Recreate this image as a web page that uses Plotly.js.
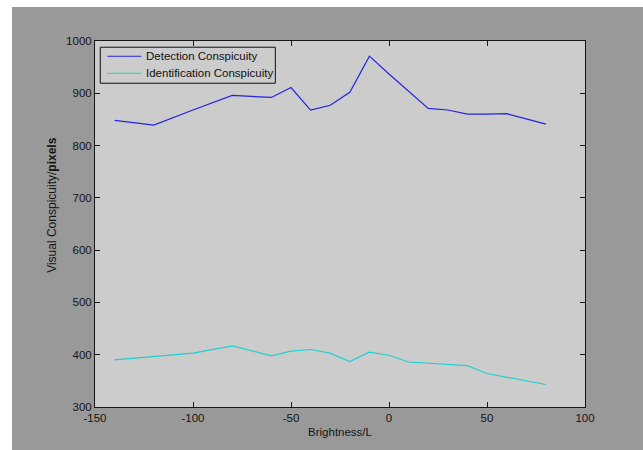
<!DOCTYPE html>
<html>
<head>
<meta charset="utf-8">
<script src="https://cdn.plot.ly/plotly-3.0.1.min.js"></script>
<style>
  html, body { margin: 0; padding: 0; background: #ffffff; width: 643px; height: 450px; overflow: hidden; }
  #chart { position: absolute; left: 12px; top: 7px; width: 631px; height: 443px; }
</style>
</head>
<body>
<div id="chart"></div>
<script>
const brightness = [-140, -120, -100, -80, -60, -50, -40, -30, -20, -10, 0, 10, 20, 30, 40, 50, 60, 70, 80];
const detection = [848, 839, 868, 896, 892, 911, 868, 877, 902, 971, 937, 904, 871, 868, 860, 860, 861, 851, 841];
const identification = [390, 396, 403, 417, 398, 407, 410, 403, 387, 405, 399, 386, 384, 382, 379, 364, 357, 350, 343];
const seriesNames = ["Detection Conspicuity", "Identification Conspicuity"];
const seriesColors = ["#2424e0", "#22d0d0"];
const xTicks = [-150, -100, -50, 0, 50, 100];
const yTicks = [300, 400, 500, 600, 700, 800, 900, 1000];

const axisColor = "#151515";
const fontFam = "Arial, 'Liberation Sans', sans-serif";

const traces = [
  { x: brightness, y: detection, name: seriesNames[0], type: "scatter", mode: "lines",
    line: { color: seriesColors[0], width: 1.2 } },
  { x: brightness, y: identification, name: seriesNames[1], type: "scatter", mode: "lines",
    line: { color: seriesColors[1], width: 1.2 } }
];

// Compact MATLAB-style legend box (paper coordinates)
const legBox = { x0: 0.0108, x1: 0.368, y0: 0.8846, y1: 0.983 };
const legRows = [0.9583, 0.9119];
const shapes = [
  { type: "rect", xref: "paper", yref: "paper", x0: legBox.x0, x1: legBox.x1, y0: legBox.y0, y1: legBox.y1,
    fillcolor: "#cccccc", line: { color: "#111111", width: 1 }, layer: "above" }
];
const annotations = [];
seriesNames.forEach((nm, i) => {
  shapes.push({ type: "line", xref: "paper", yref: "paper", x0: 0.0251, x1: 0.0945, y0: legRows[i], y1: legRows[i],
    line: { color: seriesColors[i], width: 1.2 }, layer: "above" });
  annotations.push({ text: nm, xref: "paper", yref: "paper", x: 0.1, y: legRows[i],
    xanchor: "left", yanchor: "middle", showarrow: false,
    font: { family: fontFam, size: 11.5, color: "#111111" } });
});
annotations.push({
  text: "Visual Conspicuity/<b>pixels</b>",
  xref: "paper", yref: "paper", x: -0.088, y: 0.552,
  xanchor: "center", yanchor: "middle", textangle: -90, showarrow: false,
  font: { family: fontFam, size: 12, color: axisColor }
});

const layout = {
  width: 631, height: 443,
  margin: { l: 83, r: 58, t: 34, b: 43, pad: 0 },
  paper_bgcolor: "#999999",
  plot_bgcolor: "#cccccc",
  font: { family: fontFam, size: 11.5, color: axisColor },
  showlegend: false,
  xaxis: {
    range: [-150, 100], tickvals: xTicks, ticktext: xTicks.map(String),
    showgrid: false, zeroline: false,
    showline: true, linecolor: axisColor, linewidth: 1, mirror: "ticks",
    ticks: "inside", ticklen: 5, tickcolor: axisColor,
    tickfont: { family: fontFam, size: 11.5, color: axisColor },
    title: { text: "Brightness/L", font: { family: fontFam, size: 11.5, color: axisColor }, standoff: 5 }
  },
  yaxis: {
    range: [300, 1000], tickvals: yTicks, ticktext: yTicks.map(String),
    showgrid: false, zeroline: false,
    showline: true, linecolor: axisColor, linewidth: 1, mirror: "ticks",
    ticks: "inside", ticklen: 5, tickcolor: axisColor,
    tickfont: { family: fontFam, size: 11.5, color: axisColor },
    title: { text: "" }
  },
  shapes: shapes,
  annotations: annotations
};

Plotly.newPlot("chart", traces, layout, { displayModeBar: false, staticPlot: true });
</script>
</body>
</html>
